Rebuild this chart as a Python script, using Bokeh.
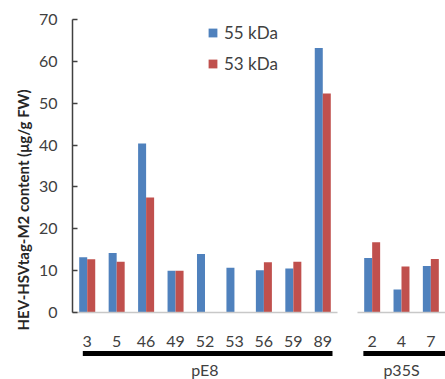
from bokeh.plotting import figure
from bokeh.models import FactorRange, Range1d, FixedTicker, ColumnDataSource, Title
from bokeh.transform import dodge
from bokeh.layouts import row, column
from bokeh.embed import file_html
from bokeh.resources import INLINE
from bokeh.core.properties import value

# ---- data ----
pe8_lines = ["3", "5", "46", "49", "52", "53", "56", "59", "89"]
pe8_55kda = [13.2, 14.2, 40.4, 10.0, 14.0, 10.7, 10.1, 10.5, 63.2]
pe8_53kda = [12.7, 12.1, 27.5, 10.0, 0.0, 0.0, 12.0, 12.1, 52.3]
p35s_lines = ["2", "4", "7"]
p35s_55kda = [13.0, 5.5, 11.1]
p35s_53kda = [16.8, 11.0, 12.8]
y_ticks = [0, 10, 20, 30, 40, 50, 60, 70]
group_names = ["pE8", "p35S"]
series_names = ["55 kDa", "53 kDa"]
y_title = "HEV-HSVtag-M2 content (μg/g FW)"

colors = ["#4F81BD", "#C0504D"]
FONT = "Lato"
TXT = "#404040"
FRAME_H = 293


def bar_chart(lines, s55, s53, frame_w, left_border, right_border, with_y, with_legend):
    src = ColumnDataSource(dict(x=lines, s55=s55, s53=s53))
    kw = {}
    if not with_y:
        kw["y_axis_location"] = None
    p = figure(x_range=FactorRange(*lines), y_range=Range1d(0, 70),
               frame_width=frame_w, frame_height=FRAME_H,
               min_border_left=left_border, min_border_right=right_border,
               min_border_top=19, min_border_bottom=38,
               output_backend="svg", toolbar_location=None, **kw)
    lab = dict(legend_label=series_names[0]) if with_legend else {}
    p.vbar(x=dodge("x", -0.136, range=p.x_range), top="s55", width=0.272,
           source=src, fill_color=colors[0], line_color=None, **lab)
    lab = dict(legend_label=series_names[1]) if with_legend else {}
    p.vbar(x=dodge("x", 0.136, range=p.x_range), top="s53", width=0.272,
           source=src, fill_color=colors[1], line_color=None, **lab)

    p.xgrid.visible = False
    p.ygrid.visible = False
    p.outline_line_color = None
    p.background_fill_color = "white"
    p.border_fill_color = "white"

    xa = p.xaxis[0]
    xa.axis_line_color = "#C8C8C8"
    xa.axis_line_width = 1.5
    xa.major_tick_line_color = None
    xa.minor_tick_line_color = None
    xa.major_label_standoff = 17
    xa.major_label_text_font = FONT
    xa.major_label_text_font_size = "16px"
    xa.major_label_text_color = TXT

    if with_y:
        ya = p.yaxis[0]
        ya.ticker = FixedTicker(ticks=y_ticks)
        ya.axis_line_color = "#404040"
        ya.axis_line_width = 1.5
        ya.major_tick_line_color = "#404040"
        ya.major_tick_line_width = 1.5
        ya.major_tick_in = 5
        ya.major_tick_out = 0
        ya.minor_tick_line_color = None
        ya.major_label_standoff = 15
        ya.major_label_text_font = FONT
        ya.major_label_text_font_size = "16px"
        ya.major_label_text_color = TXT
        t = Title(text=y_title, align="left", offset=-18, standoff=8,
                  text_font=FONT, text_font_size="15px", text_font_style="bold",
                  text_color="#262626")
        p.add_layout(t, "left")

    if with_legend:
        lg = p.legend[0]
        lg.location = (135, 238)
        lg.padding = 0
        lg.margin = 0
        lg.border_line_color = None
        lg.background_fill_alpha = 0
        lg.glyph_width = 11
        lg.glyph_height = 11
        lg.label_standoff = 6
        lg.spacing = 10
        lg.label_height = 20
        lg.label_text_font = FONT
        lg.label_text_font_size = "17px"
        lg.label_text_color = TXT
    return p


def group_strip(p, lines, name, frame_w, left_border, right_border, off0, off1, label_at):
    s = figure(x_range=p.x_range, y_range=Range1d(0, 29),
               frame_width=frame_w, frame_height=29,
               min_border_left=left_border, min_border_right=right_border,
               min_border_top=0, min_border_bottom=0,
               x_axis_location=None, y_axis_location=None,
               output_backend="svg", toolbar_location=None)
    s.grid.visible = False
    s.outline_line_color = None
    s.border_fill_color = "white"
    seg = ColumnDataSource(dict(x0=[lines[0]], x1=[lines[-1]], y=[26]))
    s.segment(x0=dodge("x0", off0, range=s.x_range), x1=dodge("x1", off1, range=s.x_range),
              y0="y", y1="y", source=seg, line_color="black", line_width=5)
    s.text(x=[label_at], y=[10], text=[name], text_align="center",
           text_baseline="middle", text_font=value(FONT), text_font_size="16px",
           text_color=TXT)
    return s


pa = bar_chart(pe8_lines, pe8_55kda, pe8_53kda, 265, 72, 10, True, True)
sa = group_strip(pa, pe8_lines, group_names[0], 265, 72, 10, -0.15, 0.33, pe8_lines[4])
pb = bar_chart(p35s_lines, p35s_55kda, p35s_53kda, 88, 10, 0, False, False)
sb = group_strip(pb, p35s_lines, group_names[1], 88, 10, 0, -0.3, 0.5, p35s_lines[1])

layout = row(column(pa, sa), column(pb, sb))

open("out.html", "w").write(file_html(layout, INLINE))
